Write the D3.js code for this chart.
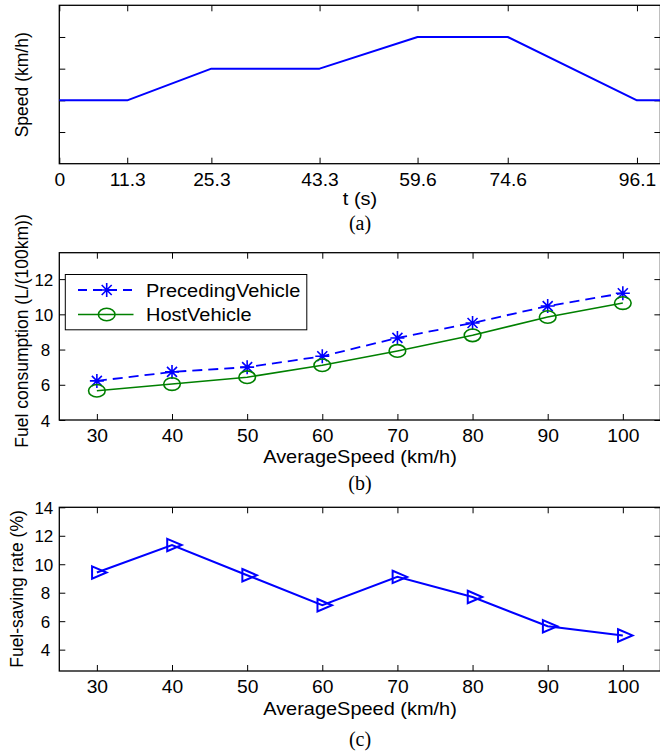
<!DOCTYPE html>
<html>
<head>
<meta charset="utf-8">
<script src="https://cdn.jsdelivr.net/npm/d3@7"></script>
<style>
  html, body { margin: 0; padding: 0; background: #fff; }
  svg { display: block; }
  text { font-family: "Liberation Sans", Arial, Helvetica, sans-serif; fill: #000; }
  text.cap { font-family: "Liberation Serif", "Times New Roman", serif; }
</style>
</head>
<body>
<svg id="chart" width="660" height="753"></svg>
<script>
// ---- data ----
// (a) speed profile of the driving cycle
const speedTime  = [0, 11.3, 25.3, 43.3, 59.6, 74.6, 96.1, 100];
const speedValue = [30, 30, 40, 40, 50, 50, 30, 30];
const timeTicks  = [0, 11.3, 25.3, 43.3, 59.6, 74.6, 96.1];
const speedTicks = [20, 30, 40, 50];

// (b) fuel consumption vs. average speed
const avgSpeed      = [30, 40, 50, 60, 70, 80, 90, 100];
const precedingFuel = [6.22, 6.73, 7.0, 7.62, 8.66, 9.51, 10.47, 11.2];
const hostFuel      = [5.66, 6.04, 6.43, 7.11, 7.92, 8.81, 9.85, 10.64];
const fuelTicks     = [4, 6, 8, 10, 12];

// (c) fuel-saving rate vs. average speed
const savingRate  = [9.42, 11.35, 9.23, 7.12, 9.11, 7.7, 5.64, 5.0];
const savingTicks = [4, 6, 8, 10, 12, 14];

const seriesNames = ["PrecedingVehicle", "HostVehicle"];

// ---- layout ----
const svg = d3.select("#chart");
const LEFT = 59.3, RIGHT = 660.4, TICK = 6;
const BLUE = "#0000ff", GREEN = "#008000";

function frame(x, y, xTicks, yTicks, xFmt, yFmt) {
  const [x0, x1] = x.range();
  const [y0, y1] = y.range();
  const g = svg.append("g");
  g.append("rect")
    .attr("x", x0).attr("y", y1)
    .attr("width", x1 - x0).attr("height", y0 - y1)
    .attr("fill", "none").attr("stroke", "#000").attr("stroke-width", 1.3);
  const ax = g.append("g").attr("transform", `translate(0,${y0})`)
    .call(d3.axisBottom(x).tickValues(xTicks).tickSize(-TICK).tickFormat(xFmt));
  g.append("g").attr("transform", `translate(0,${y1})`)
    .call(d3.axisTop(x).tickValues(xTicks).tickSize(-TICK).tickFormat(""));
  const ay = g.append("g").attr("transform", `translate(${x0},0)`)
    .call(d3.axisLeft(y).tickValues(yTicks).tickSize(-TICK).tickFormat(yFmt));
  g.append("g").attr("transform", `translate(${x1},0)`)
    .call(d3.axisRight(y).tickValues(yTicks).tickSize(-TICK).tickFormat(""));
  g.selectAll(".domain").remove();
  g.selectAll(".tick line").attr("stroke", "#000").attr("stroke-width", 1);
  ax.selectAll("text")
    .attr("y", 22.3).attr("dy", null)
    .attr("font-size", 17.5)
    .attr("transform", "scale(1.1,1)");
  ay.selectAll("text")
    .attr("x", d => d >= 10 ? -6 : -9.2)
    .attr("dy", "0.36em")
    .attr("font-size", 17);
  return g;
}

function hLabel(txt, x, y, size, sx, cls) {
  svg.append("text")
    .attr("class", cls || null)
    .attr("transform", `translate(${x},${y}) scale(${sx},1)`)
    .attr("text-anchor", "middle")
    .attr("font-size", size)
    .text(txt);
}

function vLabel(txt, x, y, size) {
  svg.append("text")
    .attr("transform", `translate(${x},${y}) rotate(-90)`)
    .attr("text-anchor", "middle")
    .attr("font-size", size)
    .text(txt);
}

// marker shapes
const starPath = "M-7,0H7M0,-7V7M-5,-5L5,5M-5,5L5,-5";
const triPath  = "M-4.8,-6.2L9.7,0L-4.8,6.2Z";

// ---- (a) speed profile ----
{
  const x = d3.scaleLinear().domain([0, 100]).range([LEFT, RIGHT]);
  const y = d3.scaleLinear().domain([10, 60]).range([163.7, 5.3]);
  frame(x, y, timeTicks, speedTicks, d => String(d), "");
  const line = d3.line().x((d, i) => x(speedTime[i])).y(d => y(d));
  svg.append("path").datum(speedValue)
    .attr("d", line).attr("fill", "none")
    .attr("stroke", BLUE).attr("stroke-width", 2).attr("stroke-linejoin", "round");
  vLabel("Speed (km/h)", 28.3, 84.8, 17.5);
  hLabel("t (s)", 360, 205, 19, 1.05);
  hLabel("(a)", 360, 229.5, 20, 1, "cap");
}

// ---- (b) fuel consumption ----
{
  const x = d3.scaleLinear().domain([25, 105]).range([LEFT, RIGHT]);
  const y = d3.scaleLinear().domain([4, 13.5]).range([420, 252.7]);
  frame(x, y, avgSpeed, fuelTicks, d => String(d), d => String(d));
  const line = d3.line().x((d, i) => x(avgSpeed[i])).y(d => y(d));
  svg.append("path").datum(hostFuel)
    .attr("d", line).attr("fill", "none")
    .attr("stroke", GREEN).attr("stroke-width", 1.6);
  svg.append("path").datum(precedingFuel)
    .attr("d", line).attr("fill", "none")
    .attr("stroke", BLUE).attr("stroke-width", 1.8).attr("stroke-dasharray", "10,6");
  svg.append("g").selectAll("path").data(precedingFuel).join("path")
    .attr("transform", (d, i) => `translate(${x(avgSpeed[i])},${y(d)})`)
    .attr("d", starPath).attr("fill", "none")
    .attr("stroke", BLUE).attr("stroke-width", 1.6);
  svg.append("g").selectAll("ellipse").data(hostFuel).join("ellipse")
    .attr("cx", (d, i) => x(avgSpeed[i])).attr("cy", d => y(d))
    .attr("rx", 8.3).attr("ry", 6.3)
    .attr("fill", "none").attr("stroke", GREEN).attr("stroke-width", 1.6);

  // legend
  const lg = svg.append("g");
  lg.append("rect").attr("x", 65.3).attr("y", 274.5).attr("width", 241.5).attr("height", 55.3)
    .attr("fill", "#fff").attr("stroke", "#000").attr("stroke-width", 1);
  lg.append("line").attr("x1", 78).attr("x2", 133.5).attr("y1", 290).attr("y2", 290)
    .attr("stroke", BLUE).attr("stroke-width", 1.8).attr("stroke-dasharray", "9,6");
  lg.append("path").attr("transform", "translate(106.7,290)").attr("d", starPath)
    .attr("fill", "none").attr("stroke", BLUE).attr("stroke-width", 1.6);
  lg.append("line").attr("x1", 78).attr("x2", 133.5).attr("y1", 314.5).attr("y2", 314.5)
    .attr("stroke", GREEN).attr("stroke-width", 1.6);
  lg.append("ellipse").attr("cx", 106.7).attr("cy", 314.5).attr("rx", 8.3).attr("ry", 6.3)
    .attr("fill", "none").attr("stroke", GREEN).attr("stroke-width", 1.6);
  lg.selectAll("text").data(seriesNames).join("text")
    .attr("transform", (d, i) => `translate(146,${296.7 + i * 24}) scale(1.08,1)`)
    .attr("font-size", 18.5)
    .text(d => d);

  vLabel("Fuel consumption (L/(100km))", 28.3, 331, 17.5);
  hLabel("AverageSpeed (km/h)", 360, 463.3, 19, 1.05);
  hLabel("(b)", 360, 489.7, 20, 1, "cap");
}

// ---- (c) fuel-saving rate ----
{
  const x = d3.scaleLinear().domain([25, 105]).range([LEFT, RIGHT]);
  const y = d3.scaleLinear().domain([2.5, 14]).range([671, 507.3]);
  frame(x, y, avgSpeed, savingTicks, d => String(d), d => String(d));
  const line = d3.line().x((d, i) => x(avgSpeed[i])).y(d => y(d));
  svg.append("path").datum(savingRate)
    .attr("d", line).attr("fill", "none")
    .attr("stroke", BLUE).attr("stroke-width", 2);
  svg.append("g").selectAll("path").data(savingRate).join("path")
    .attr("transform", (d, i) => `translate(${x(avgSpeed[i])},${y(d)})`)
    .attr("d", triPath).attr("fill", "none")
    .attr("stroke", BLUE).attr("stroke-width", 2).attr("stroke-linejoin", "miter");
  vLabel("Fuel-saving rate (%)", 23.3, 589, 17.5);
  hLabel("AverageSpeed (km/h)", 360, 714.5, 19, 1.05);
  hLabel("(c)", 360, 746.4, 20, 1, "cap");
}
</script>
</body>
</html>
